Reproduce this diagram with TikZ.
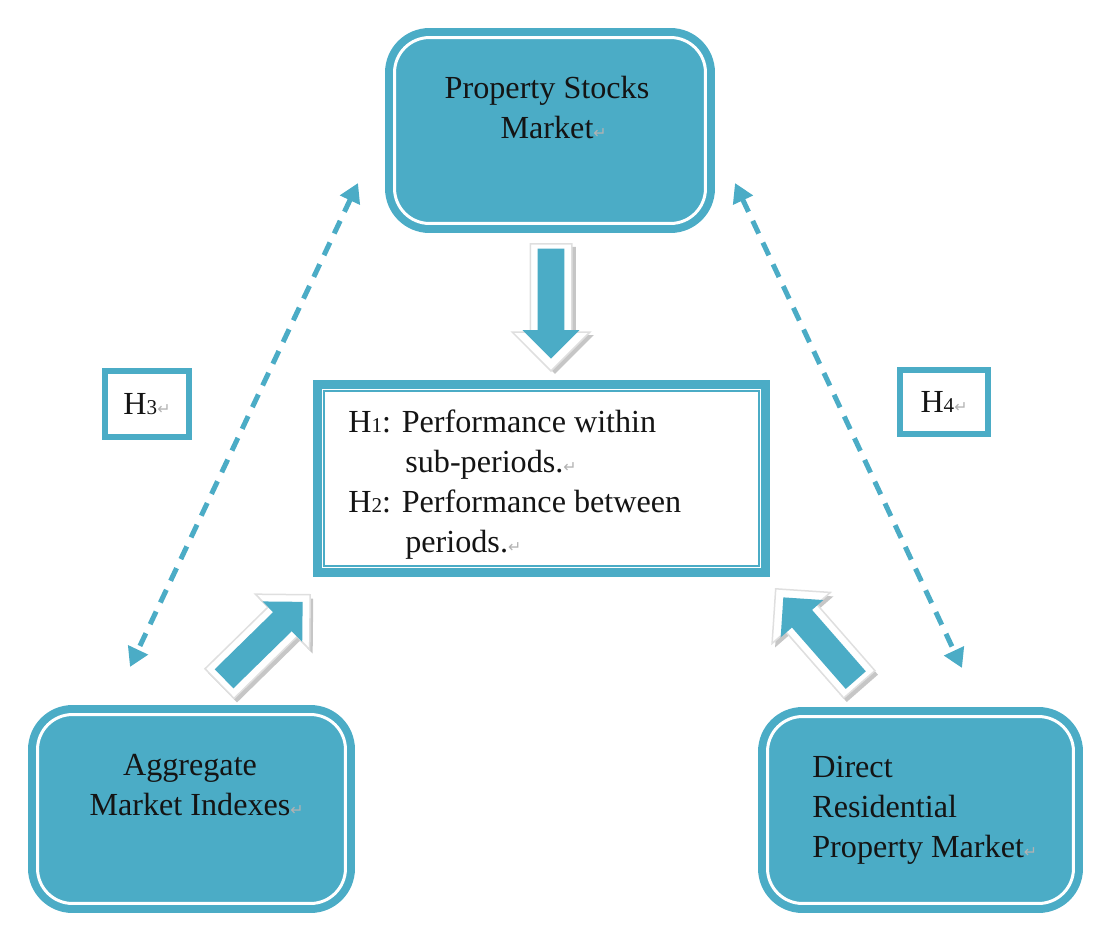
\documentclass[tikz,border=0pt]{standalone}
\usepackage{fontspec}
\setmainfont{Liberation Serif}
\newfontfamily\retfont{DejaVu Sans}
\usetikzlibrary{arrows.meta,shapes.arrows,calc}
\definecolor{wteal}{HTML}{4BACC6}
\definecolor{txt}{HTML}{141414}
\newcommand\retmark{{\retfont\fontsize{9}{9}\selectfont\textcolor{gray!60}{↵}}}
\newcommand\hsub[1]{{\fontsize{12}{12}\selectfont #1}}
\begin{document}
\begin{tikzpicture}[x=0.02cm,y=-0.02cm,
  bigbox/.style={draw=wteal, fill=wteal, line width=0.16cm, double=white,
    double distance=0.06cm, rounded corners=0.7cm, inner sep=0pt},
  hbox/.style={draw=wteal, fill=white, line width=0.12cm, inner sep=0pt,
    text=txt, font=\fontsize{18.3}{22.6}\selectfont},
  lbl/.style={inner sep=0pt, text=txt, font=\fontsize{18.3}{22.6}\selectfont},
  arrout/.style={single arrow, fill=white, draw=gray!25, line width=0.03cm,
    minimum height=2.54cm, inner xsep=0pt, inner ysep=0.4cm,
    single arrow head extend=0.36cm, anchor=tip},
  arrshadow/.style={arrout, fill=gray!45, draw=none},
  arrin/.style={single arrow, fill=wteal, draw=none, minimum height=2.2cm,
    inner xsep=0pt, inner ysep=0.26cm, single arrow head extend=0.3cm, anchor=tip},
  dasharrow/.style={wteal, line width=0.1cm, dash pattern=on 0.28cm off 0.2cm,
    {Triangle[length=0.38cm,width=0.42cm]}-{Triangle[length=0.38cm,width=0.42cm]}}
]
\useasboundingbox (0,0) rectangle (1095,947);

% main boxes
\node[bigbox, minimum width=6.22cm, minimum height=3.72cm] (sp) at (550,130.5) {};
\node[lbl, align=center, anchor=base] (sptxt) at (547,138) {Property Stocks\\Market\rlap{\retmark}};

\node[bigbox, minimum width=6.16cm, minimum height=3.78cm] (ag) at (191.5,809) {};
\node[lbl, align=center, anchor=base] (agtxt) at (190,815) {Aggregate\\Market Indexes\rlap{\retmark}};

\node[bigbox, minimum width=6.12cm, minimum height=3.74cm] (dr) at (920.5,810) {};
\node[lbl, align=left, anchor=base west] (drtxt) at (812,857) {Direct\\Residential\\Property Market\retmark};

% hypotheses box
\node[draw=wteal, fill=white, line width=0.18cm, minimum width=8.96cm, minimum height=3.76cm, inner sep=0pt] (hy) at (541.5,478.5) {};
\draw[wteal, line width=0.05cm] ([shift={(11,11)}]hy.north west) rectangle ([shift={(-11,-11)}]hy.south east);
\node[lbl, align=left, anchor=base west] (hytxt) at (348,552)
  {H\hsub{1}: Performance within\\\hspace*{1.14cm}sub-periods.\retmark\\H\hsub{2}: Performance between\\\hspace*{1.14cm}periods.\retmark};

% H3 / H4
\node[hbox, minimum width=1.68cm, minimum height=1.32cm] (h3) at (147,404) {H\hsub{3}\retmark};
\node[hbox, minimum width=1.76cm, minimum height=1.28cm] (h4) at (944,402) {H\hsub{4}\retmark};

% block arrows
\node[arrshadow, rotate=-90] (a1s) at (555,375) {};
\node[arrout, rotate=-90] (a1o) at (551,372) {};
\node[arrin, rotate=-90] (a1i) at (551,359) {};

\node[arrshadow, rotate=44.4] (a2s) at (314,598) {};
\node[arrout, rotate=44.4] (a2o) at (311,594) {};
\node[arrin, rotate=44.4] (a2i) at (303,601.5) {};

\node[arrshadow, rotate=131.2] (a3s) at (778,592) {};
\node[arrout, rotate=131.2] (a3o) at (775,588) {};
\node[arrin, rotate=131.2] (a3i) at (783,597) {};

% dashed double arrows
\coordinate (d1a) at (358,183);
\coordinate (d1b) at (130,667);
\coordinate (d2a) at (735,183);
\coordinate (d2b) at (962,668);
\draw[dasharrow] (d1a) -- (d1b);
\draw[dasharrow] (d2a) -- (d2b);
\end{tikzpicture}
\end{document}
